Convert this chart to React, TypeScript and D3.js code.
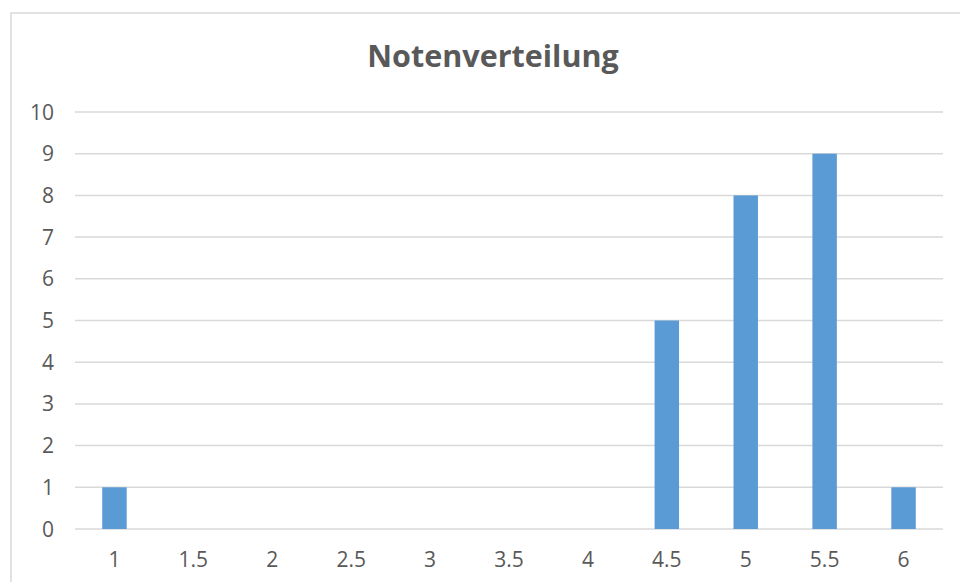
import * as d3 from 'd3';
import React from 'react';

// Notenverteilung: Anzahl pro Note
const grades = ['1', '1.5', '2', '2.5', '3', '3.5', '4', '4.5', '5', '5.5', '6'];
const counts = [1, 0, 0, 0, 0, 0, 0, 5, 8, 9, 1];
const yTicks = [0, 1, 2, 3, 4, 5, 6, 7, 8, 9, 10];

const W = 960;
const H = 582;
const margin = { top: 112, right: 17, bottom: 53, left: 75 };
const font = '"Open Sans", "Liberation Sans", sans-serif';
const textColor = '#595959';

export default function App() {
  const x = d3
    .scaleBand<string>()
    .domain(grades)
    .range([margin.left, W - margin.right])
    .paddingInner(0.69)
    .paddingOuter(0.345);

  const y = d3
    .scaleLinear()
    .domain([0, 10])
    .range([H - margin.bottom, margin.top]);

  return (
    <svg
      width={W}
      height={H}
      style={{ position: 'absolute', left: 0, top: 0, background: '#fff' }}
    >
      {/* chart frame */}
      <rect x={11} y={13} width={W + 20} height={H + 20} fill="none" stroke="#d9d9d9" strokeWidth={1.5} />

      <text
        x={493}
        y={67}
        textAnchor="middle"
        fontFamily={font}
        fontWeight={700}
        fontSize={30.5}
        fill={textColor}
      >
        Notenverteilung
      </text>

      {/* gridlines + y labels */}
      {yTicks.map((t) => (
        <g key={t}>
          <line
            x1={margin.left}
            x2={W - margin.right}
            y1={y(t)}
            y2={y(t)}
            stroke="#d9d9d9"
            strokeWidth={1.5}
          />
          <text
            x={54}
            y={y(t)}
            dy="0.36em"
            textAnchor="end"
            fontFamily={font}
            fontSize={21}
            fill={textColor}
          >
            {t}
          </text>
        </g>
      ))}

      {/* bars */}
      {grades.map((g, i) => (
        <rect
          key={g}
          x={x(g)}
          y={y(counts[i])}
          width={x.bandwidth()}
          height={y(0) - y(counts[i])}
          fill="#5b9bd5"
        />
      ))}

      {/* x labels */}
      {grades.map((g) => (
        <text
          key={g}
          x={(x(g) || 0) + x.bandwidth() / 2}
          y={567}
          textAnchor="middle"
          fontFamily={font}
          fontSize={21}
          fill={textColor}
        >
          {g}
        </text>
      ))}
    </svg>
  );
}
